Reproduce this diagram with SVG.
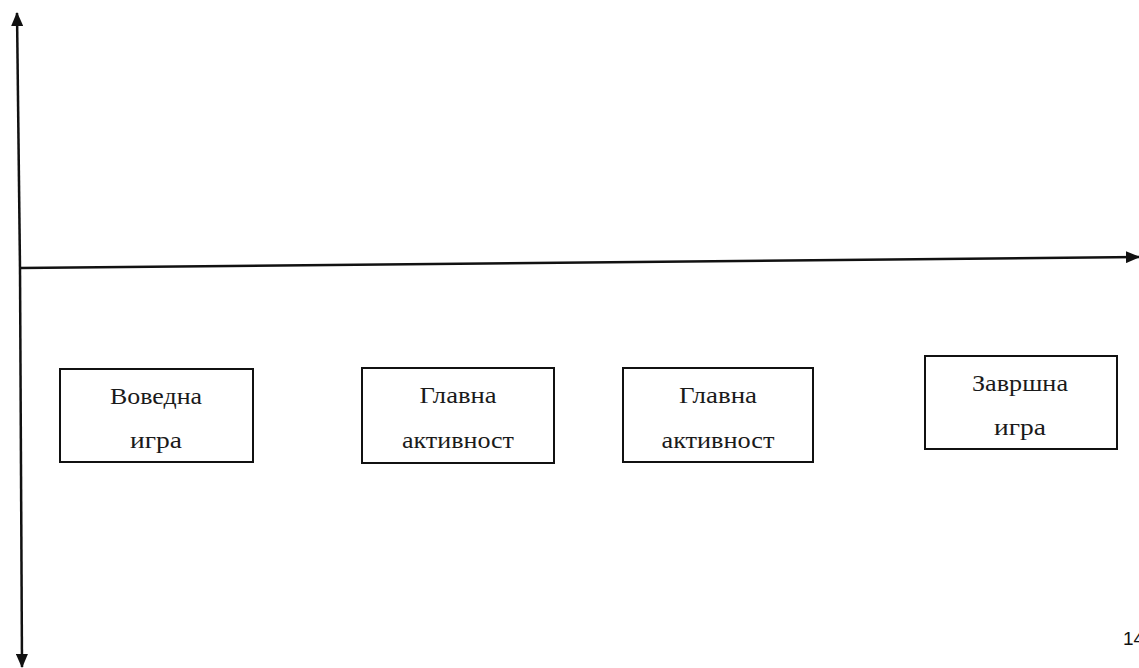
<svg xmlns="http://www.w3.org/2000/svg" width="1139" height="668" viewBox="0 0 1139 668">
<style>
.box{fill:#fff;stroke:#111;stroke-width:2}
.t{font-family:"Liberation Serif","Times New Roman",serif;font-size:24px;fill:#1a1a1a;text-anchor:middle}
.ax{stroke:#111;stroke-width:2.5;fill:none}
.num{font-family:"Liberation Sans",Arial,sans-serif;font-size:19px;fill:#111}
</style>
<defs>
<marker id="ah" viewBox="0 0 14 12" refX="13" refY="6" markerWidth="14" markerHeight="12" markerUnits="userSpaceOnUse" orient="auto">
<path d="M0,0 L14,6 L0,12 Z" fill="#111"/>
</marker>
</defs>
<rect width="1139" height="668" fill="#fff"/>
<g id="connectors">
<line class="ax" x1="20" y1="268" x2="17" y2="13" marker-end="url(#ah)"/>
<line class="ax" x1="20" y1="268" x2="22" y2="667" marker-end="url(#ah)"/>
<line class="ax" x1="20" y1="268" x2="1139" y2="257" marker-end="url(#ah)"/>
</g>
<g id="node1">
<rect class="box" x="60" y="369" width="193" height="93"/>
<text class="t" x="156" y="404" textLength="92" lengthAdjust="spacingAndGlyphs">Воведна</text>
<text class="t" x="156" y="448" textLength="52" lengthAdjust="spacingAndGlyphs">игра</text>
</g>
<g id="node2">
<rect class="box" x="362" y="368" width="192" height="95"/>
<text class="t" x="458" y="403" textLength="77" lengthAdjust="spacingAndGlyphs">Главна</text>
<text class="t" x="458" y="448" textLength="112" lengthAdjust="spacingAndGlyphs">активност</text>
</g>
<g id="node3">
<rect class="box" x="623" y="368" width="190" height="94"/>
<text class="t" x="718" y="403" textLength="78" lengthAdjust="spacingAndGlyphs">Главна</text>
<text class="t" x="718" y="448" textLength="113" lengthAdjust="spacingAndGlyphs">активност</text>
</g>
<g id="node4">
<rect class="box" x="925" y="356" width="192" height="93"/>
<text class="t" x="1020" y="391" textLength="96" lengthAdjust="spacingAndGlyphs">Завршна</text>
<text class="t" x="1020" y="435" textLength="52" lengthAdjust="spacingAndGlyphs">игра</text>
</g>
<text class="num" x="1123" y="645">14</text>
</svg>
